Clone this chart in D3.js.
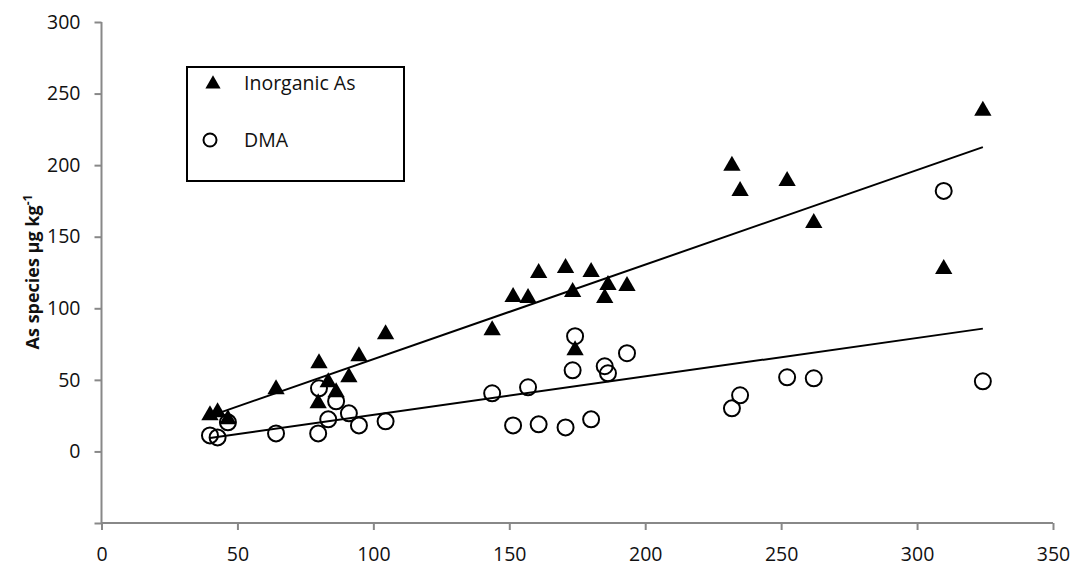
<!DOCTYPE html>
<html>
<head>
<meta charset="utf-8">
<script src="https://cdn.jsdelivr.net/npm/d3@7"></script>
<style>
  body { margin: 0; background: #fff; }
  svg { display: block; font-family: "Open Sans", "Liberation Sans", sans-serif; }
</style>
</head>
<body>
<div id="chart"></div>
<script>
// total As (x) for each sample, with species concentrations
const totalAs = [39.9, 42.7, 46.5, 64.2, 80.0, 79.7, 83.4, 86.3, 91.0, 94.7, 104.5,
  143.7, 151.4, 156.9, 160.8, 170.7, 180.1, 173.3, 174.2, 186.3, 185.1, 193.3,
  231.9, 234.9, 252.2, 262.0, 309.8, 324.2];
const inorganicAs = [25.2, 27.3, 22.4, 43.4, 61.6, 33.6, 48.3, 41.3, 51.8, 66.5, 81.9,
  84.7, 107.8, 107.1, 124.6, 128.1, 125.3, 111.3, 70.7, 116.2, 107.1, 115.5,
  199.5, 182.0, 189.0, 159.6, 127.4, 238.0];
const dma = [11.2, 9.8, 20.3, 12.6, 44.1, 12.6, 22.4, 35.0, 26.6, 18.2, 21.0,
  40.6, 18.2, 44.8, 18.9, 16.8, 22.4, 56.7, 80.5, 54.6, 59.5, 68.6,
  30.1, 39.2, 51.8, 51.1, 182.0, 49.0];

const xTicks = [0, 50, 100, 150, 200, 250, 300, 350];
const yTicks = [-50, 0, 50, 100, 150, 200, 250, 300];
const seriesNames = ["Inorganic As", "DMA"];

const width = 1076, height = 570;
const margin = { top: 22, right: 23, bottom: 47, left: 101.5 };
const font = '"Open Sans", "Liberation Sans", sans-serif';

const svg = d3.select("#chart").append("svg")
  .attr("width", width)
  .attr("height", height);

const x = d3.scaleLinear().domain([0, 350]).range([margin.left, width - margin.right]);
const y = d3.scaleLinear().domain([-50, 300]).range([height - margin.bottom, margin.top]);

// axes
const xAxis = svg.append("g")
  .attr("transform", `translate(0,${y(-50)})`)
  .call(d3.axisBottom(x).tickValues(xTicks).tickSize(7).tickPadding(17));
const yAxis = svg.append("g")
  .attr("transform", `translate(${x(0)},0)`)
  .call(d3.axisLeft(y).tickValues(yTicks).tickSize(7).tickPadding(14)
    .tickFormat(d => d < 0 ? "" : d));

[xAxis, yAxis].forEach(g => {
  g.attr("font-family", font).attr("font-size", 19.5);
  g.selectAll("path, line").attr("stroke", "#888").attr("stroke-width", 2);
  g.selectAll("text").attr("fill", "#111");
});
yAxis.select(".domain").attr("d", `M0,${y(300)}V${y(-50)}`);
xAxis.select(".domain").attr("d", `M${x(0)},0H${x(350)}`);

// y label
const yLabel = svg.append("text")
  .attr("transform", `translate(39,${272}) rotate(-90)`)
  .attr("text-anchor", "middle")
  .attr("font-size", 18)
  .attr("font-weight", "bold")
  .attr("fill", "#111");
yLabel.append("tspan").text("As species μg kg");
yLabel.append("tspan").attr("dy", -7).attr("font-size", 12).text("-1");

// linear regression for trend lines
function fit(xs, ys) {
  const mx = d3.mean(xs), my = d3.mean(ys);
  const b = d3.sum(xs, (v, i) => (v - mx) * (ys[i] - my)) / d3.sum(xs, v => (v - mx) ** 2);
  return [b, my - b * mx];
}
const xExt = d3.extent(totalAs);
[inorganicAs, dma].forEach(vals => {
  const [b, a] = fit(totalAs, vals);
  svg.append("line")
    .attr("x1", x(xExt[0])).attr("y1", y(a + b * xExt[0]))
    .attr("x2", x(xExt[1])).attr("y2", y(a + b * xExt[1]))
    .attr("stroke", "#000").attr("stroke-width", 2);
});

const triangle = d3.symbol().type(d3.symbolTriangle).size(130);

// DMA circles
svg.append("g").selectAll("circle")
  .data(dma)
  .join("circle")
  .attr("cx", (d, i) => x(totalAs[i]))
  .attr("cy", d => y(d))
  .attr("r", 8)
  .attr("fill", "none")
  .attr("stroke", "#000")
  .attr("stroke-width", 2);

// inorganic triangles
svg.append("g").selectAll("path")
  .data(inorganicAs)
  .join("path")
  .attr("d", triangle)
  .attr("transform", (d, i) => `translate(${x(totalAs[i])},${y(d)})`)
  .attr("fill", "#000");

// legend
const legend = svg.append("g");
legend.append("rect")
  .attr("x", 187).attr("y", 67).attr("width", 217).attr("height", 114)
  .attr("fill", "#fff").attr("stroke", "#000").attr("stroke-width", 2);
legend.append("path")
  .attr("d", d3.symbol().type(d3.symbolTriangle).size(100))
  .attr("transform", "translate(213,84)").attr("fill", "#000");
legend.append("circle")
  .attr("cx", 210).attr("cy", 140).attr("r", 6.5)
  .attr("fill", "none").attr("stroke", "#000").attr("stroke-width", 2);
legend.selectAll("text")
  .data(seriesNames)
  .join("text")
  .attr("x", 244)
  .attr("y", (d, i) => 83 + i * 57)
  .attr("dy", "0.35em")
  .attr("font-size", 19.5)
  .attr("fill", "#111")
  .text(d => d);
</script>
</body>
</html>
